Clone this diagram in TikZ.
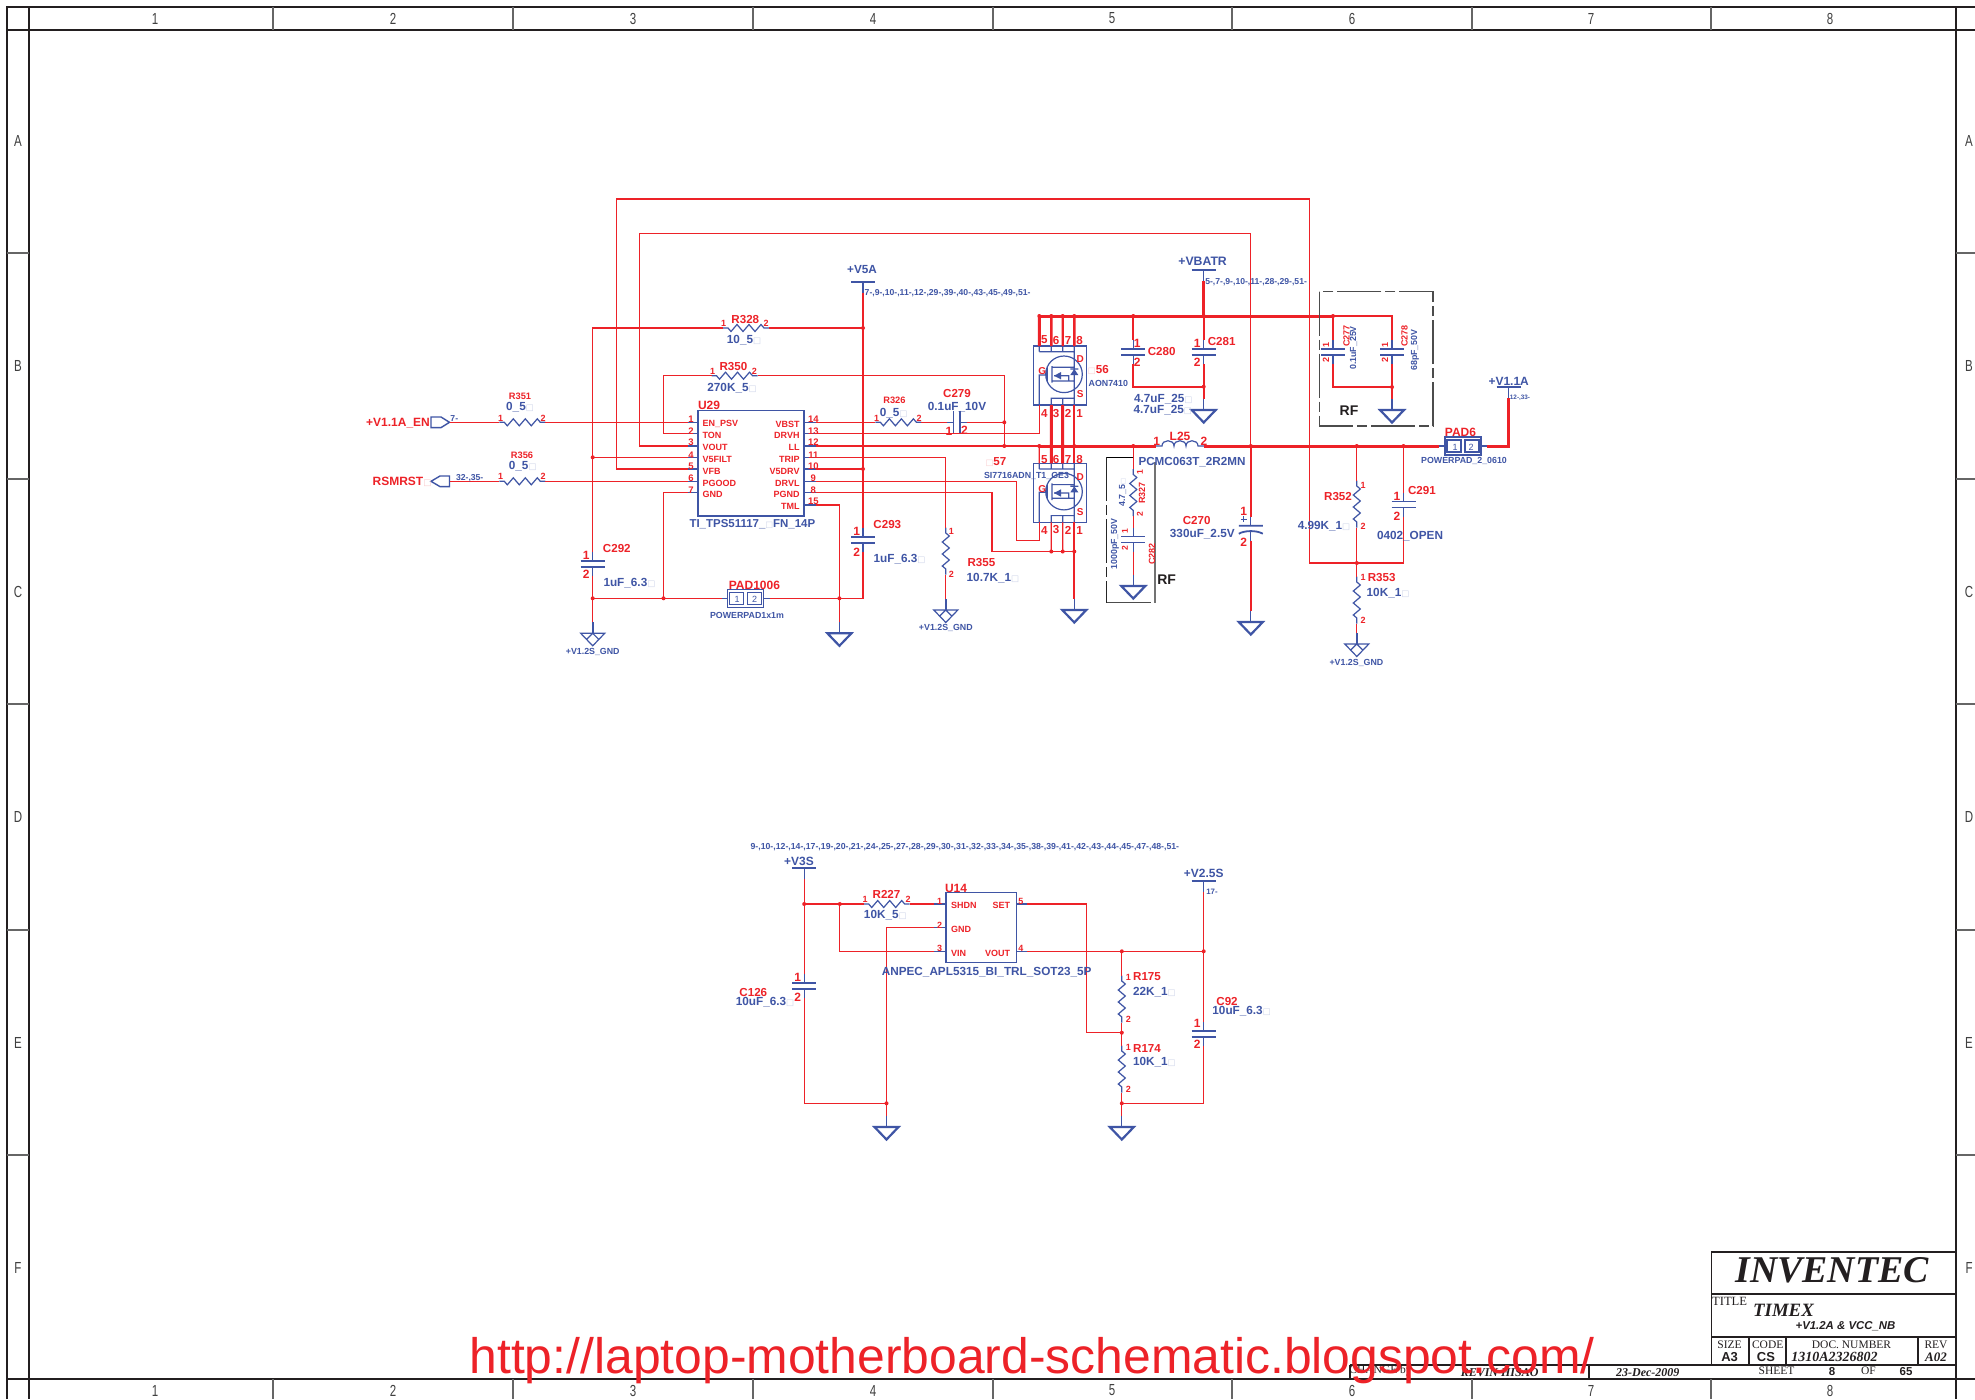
\documentclass[tikz,border=0pt]{standalone}
\usepackage{fontspec}
\setmainfont{Liberation Sans}
\newfontfamily\serf{Liberation Serif}
\newfontfamily\symf[Scale=.72]{DejaVu Sans}
\definecolor{wirered}{HTML}{ED2228}
\definecolor{partblue}{HTML}{3F55A5}
\definecolor{boxb}{HTML}{CBD2E8}
\definecolor{boxr}{HTML}{F9C9CB}
\definecolor{framek}{HTML}{231F20}
\newcounter{tn}
\newcommand\px[1]{\fontsize{\fpeval{(#1)/2}}{\fpeval{(#1)/2}}\selectfont}
\newcommand\bxb{{\color{boxb}\symf □}}
\newcommand\bxr{{\color{boxr}\symf □}}
\newcommand\RT[5][]{\stepcounter{tn}\node[txt,yshift=-.5pt,text=wirered,font=\bfseries\px{#2},#1] (t\arabic{tn}) at (#3,#4) {#5};}
\newcommand\BT[5][]{\stepcounter{tn}\node[txt,yshift=-.5pt,text=partblue,font=\bfseries\px{(#2)*.98},#1] (t\arabic{tn}) at (#3,#4) {#5};}
\newcommand\KT[5][]{\stepcounter{tn}\node[txt,text=framek,font=\px{#2},#1] (t\arabic{tn}) at (#3,#4) {#5};}
\tikzset{
 txt/.style={inner sep=0pt,outer sep=0pt},
 wire/.style={draw=wirered,line width=.65pt},
 bus/.style={draw=wirered,line width=1.5pt},
 part/.style={draw=partblue,line width=.6pt},
 plate/.style={draw=partblue,line width=.9pt},
 frameline/.style={draw=framek,line width=1pt},
 tblock/.style={draw=framek,line width=.9pt},
 rfbox/.style={draw=black!70,line width=.7pt,dash pattern=on 22pt off 2pt on 5pt off 2pt},
 chip/.style={draw=partblue,line width=.7pt,fill=none,inner sep=0pt},
 hres/.pic={\draw[part] (-23,0)--(-18,0)--(-15,3.5)--(-9,-3.5)--(-3,3.5)--(3,-3.5)--(9,3.5)--(15,-3.5)--(18,0)--(23,0);
   \coordinate (-a) at (-23,0);\coordinate (-b) at (23,0);},
 vres/.pic={\draw[part] (0,-23.5)--(0,-18)--(3.5,-15)--(-3.5,-9)--(3.5,-3)--(-3.5,3)--(3.5,9)--(-3.5,15)--(0,18)--(0,23.5);
   \coordinate (-a) at (0,-23.5);\coordinate (-b) at (0,23.5);},
 vcap/.pic={\draw[part] (0,-12)--(0,-3) (0,3)--(0,12);
   \draw[plate] (-12,-3)--(12,-3) (-12,3)--(12,3);
   \coordinate (-a) at (0,-12);\coordinate (-b) at (0,12);},
 hcap/.pic={\draw[part] (-10,0)--(-3.3,0) (3.3,0)--(10,0);
   \draw[plate] (-3.3,-11.7)--(-3.3,11.7) (3.3,-11.7)--(3.3,11.7);
   \coordinate (-a) at (-10,0);\coordinate (-b) at (10,0);},
 pcap/.pic={\draw[part] (0,-12)--(0,-3) (0,3)--(0,12) (-10,-9.5)--(-4,-9.5) (-7,-12.5)--(-7,-6.5);
   \draw[plate] (-12,-3)--(12,-3) (-12,5) .. controls (-6,1.5) and (6,1.5) .. (12,5);
   \coordinate (-a) at (0,-12);\coordinate (-b) at (0,12);},
 gndsym/.pic={\draw[part] (0,0)--(0,11);
   \draw[draw=partblue,line width=1.1pt] (-12,11)--(12,11)--(0,23.5)--cycle;
   \coordinate (-a) at (0,0);},
 gndaux/.pic={\draw[part] (0,0)--(0,11);
   \draw[draw=partblue,line width=1.1pt] (0,0)--(0,11);
   \draw[part] (-12,11)--(12,11)--(0,23.5)--cycle (-6,17)--(0,11)--(6,17);
   \coordinate (-a) at (0,0);},
 railbar/.pic={\draw[part] (0,0)--(0,11);
   \draw[draw=partblue,line width=1.1pt] (-12,0)--(12,0);
   \coordinate (-a) at (0,11);},
 padsym/.pic={\draw[part] (-24,0)--(-18,0) (18,0)--(24,0) (-18,-9) rectangle (18,9)
     (-16,-6) rectangle (-2,6) (2,-6) rectangle (16,6);
   \coordinate (-a) at (-24,0);\coordinate (-b) at (24,0);},
 coilsym/.pic={\draw[part] (-24,0)--(-18,0) .. controls (-18,-7) and (-6,-7) .. (-6,0)
     .. controls (-6,-7) and (6,-7) .. (6,0) .. controls (6,-7) and (18,-7) .. (18,0)--(24,0);
   \coordinate (-a) at (-24,0);\coordinate (-b) at (24,0);},
 mosfet/.pic={\draw[part] (-26.7,0) rectangle (26.7,59);
   \draw[part] (-20.7,0)--(-20.7,5.7) (-8.7,0)--(-8.7,5.7) (2.7,0)--(2.7,5.7) (-20.7,5.7)--(14.3,5.7)
     (14.3,0)--(14.3,59) (-8.7,59)--(-8.7,52.3)--(14.3,52.3) (2.7,52.3)--(2.7,59)
     (-20.7,59)--(-20.7,29)--(-12.7,29) (-12.7,20.7)--(-12.7,35.7)
     (-8,20)--(-8,36.7) (-8,21.3)--(14.3,21.3) (-8,35)--(8.7,35)--(8.7,29.7)--(-6,29.7) (8.7,35)--(14.3,35)
     (4,28.3) circle[radius=9.15pt] (10.3,23)--(18.3,23);
   \fill[partblue] (-6,29.7)--(1,26)--(1,33.4)--cycle (10.3,29)--(18.3,29)--(14.3,23)--cycle;
   \coordinate (-p5) at (-20.7,0);\coordinate (-p6) at (-8.7,0);\coordinate (-p7) at (2.7,0);\coordinate (-p8) at (14.3,0);
   \coordinate (-p4) at (-20.7,59);\coordinate (-p3) at (-8.7,59);\coordinate (-p2) at (2.7,59);\coordinate (-p1) at (14.3,59);},
}
\begin{document}
\begin{tikzpicture}[x=.5pt,y=-.5pt]
\useasboundingbox (0,0) rectangle (1975,1399);
\fill[white] (0,0) rectangle (1975,1399);
% ---------- frame
\coordinate (fTL) at (6.5,6.5);\coordinate (fTR) at (1975,6.5);\coordinate (fBL) at (6.5,1399);
\coordinate (iTL) at (29,29.7);\coordinate (iTR) at (1955.7,29.7);\coordinate (iBL) at (29,1379);\coordinate (iBR) at (1955.7,1379);
\draw[frameline] (fBL)--(fTL)--(fTR);
\draw[frameline,line width=1.1pt] (29,6.5)--(iTL)--(iBL)--(29,1399);
\draw[frameline,line width=1.1pt] (1955.7,6.5)--(iTR)--(iBR)--(1955.7,1399);
\draw[frameline,line width=1.1pt] (6.5,29.7)--(1975,29.7) (6.5,1379)--(1975,1379);
\foreach \x in {273.3,513,753,993,1232,1471.6,1711.3}{\draw[frameline,draw=black!60] (\x,6.5)--(\x,29.7) (\x,1379)--(\x,1399);}
\foreach \y in {253,479,704,930,1155}{\draw[frameline,draw=black!60] (6.5,\y)--(29,\y) (1955.7,\y)--(1975,\y);}
\foreach \n/\x in {1/155,2/393,3/633,4/873,5/1112,6/1352,7/1591,8/1830}{
 \KT[xscale=.72,text=black!75]{16}{\x}{18.5}{\n}\KT[xscale=.72,text=black!75]{16}{\x}{1390.5}{\n}}
\foreach \n/\y in {A/141,B/366,C/592,D/817,E/1043,F/1268}{
 \KT[xscale=.72,text=black!75]{16}{18}{\y}{\n}\KT[xscale=.72,text=black!75]{16}{1969}{\y}{\n}}
% ---------- U29
\node[chip,minimum width=53pt,minimum height=52.65pt] (U29) at (751,463.35) {};
\foreach \n/\y in {1/422.3,2/433.7,3/446,4/457.3,5/469,6/481.3,7/492.7}{
  \coordinate (U29L\n) at (688,\y); \draw[part] (U29L\n)--(698,\y);}
\foreach \n/\y in {14/422.3,13/433.7,12/446,11/457.3,10/469,9/481.3,8/492.7,15/505}{
  \coordinate (U29R\n) at (816,\y); \draw[part] (804,\y)--(U29R\n);}
\foreach \n/\y in {1/418.3,2/430,3/441,4/454,5/465,6/477,7/489}{\RT{9.5}{691}{\y}{\n}}
\foreach \n/\y in {14/418.3,13/430,12/441,11/454,10/465,9/477,8/489,15/500}{\RT{9.5}{813.3}{\y}{\n}}
\foreach \s/\y in {EN\_PSV/423,TON/434,VOUT/446,V5FILT/458,VFB/470,PGOOD/482,GND/493}{\RT[anchor=west]{9}{702.6}{\y}{\s}}
\foreach \s/\y in {VBST/423,DRVH/434,LL/446,TRIP/458,V5DRV/470,DRVL/482,PGND/493,TML/505}{\RT[anchor=east]{9}{799.5}{\y}{\s}}
\RT{12}{709}{404.7}{U29}
\BT{11.7}{752.4}{523.3}{TI\_TPS51117\_\bxb FN\_14P}
% ---------- power symbols and passives, upper sheet
\pic (V5A) at (863,281.7) {railbar};
\pic (VBATR) at (1203.7,270) {railbar};
\pic (V11A) at (1508.7,386.7) {railbar};
\pic (R328) at (746,328) {hres};
\pic (R350) at (734.5,375.7) {hres};
\pic (R351) at (522.3,422.3) {hres};
\pic (R356) at (522.3,481.3) {hres};
\pic (R326) at (898.4,422.3) {hres};
\pic (C279) at (956.7,422.3) {hcap};
\pic (C292) at (592.7,563.7) {vcap};
\pic (C293) at (863,539.7) {vcap};
\pic (PAD1006) at (745.7,598.3) {padsym};
\pic (PAD6) at (1463,446) {padsym};
\pic (R355) at (945.8,551) {vres};
\pic (G1) at (592.7,622.3) {gndaux};
\pic (G2) at (839.4,622.3) {gndsym};
\pic (G3) at (945.8,599) {gndaux};
\pic (Q1) at (1060,346) {mosfet};
\pic (Q2) at (1060,463.3) {mosfet};
\pic (G4) at (1074.3,599) {gndsym};
\pic (C280) at (1133.3,352) {vcap};
\pic (C281) at (1203.7,352) {vcap};
\pic (G5) at (1203.7,399) {gndsym};
\pic (C277) at (1333,352) {vcap};
\pic (C278) at (1392,352) {vcap};
\pic (G6) at (1392,399) {gndsym};
\pic (L25) at (1180,446) {coilsym};
\pic (R327) at (1133.3,492.5) {vres};
\pic (C282) at (1133.3,539.5) {vcap};
\pic (G7) at (1133.3,575) {gndsym};
\pic (C270) at (1250.8,528.7) {pcap};
\pic (G8) at (1250.8,611) {gndsym};
\pic (R352) at (1356.8,504) {vres};
\pic (C291) at (1403.5,504.5) {vcap};
\pic (R353) at (1356.8,600) {vres};
\pic (G9) at (1356.8,633) {gndaux};
% ports
\coordinate (portA) at (449.5,422.3);\coordinate (portB) at (449.5,481.3);
\draw[part,line width=.7pt] (431,417)--(441,417)--(portA)--(441,427.6)--(431,427.6)--cycle;
\draw[part,line width=.7pt] (431,481.3)--(440,476)--(449.5,476)--(449.5,486.6)--(440,486.6)--cycle;
% helper points
\coordinate (xVO) at (639.3,233.7);\coordinate (xVOr) at (1250.8,446);
\coordinate (xFB) at (616.4,199);\coordinate (xFBr) at (1309.5,563);
\coordinate (n328) at (863,328);\coordinate (n328l) at (592.7,328);
\coordinate (nV5D) at (863,469);\coordinate (nV5F) at (592.7,457.3);
\coordinate (nBL) at (592.7,598.3);\coordinate (nGND) at (663.5,598.3);\coordinate (nTML) at (839.4,598.3);\coordinate (nBR) at (863,598.3);
\coordinate (xTON) at (663.5,375.7);
\coordinate (nLLa) at (1004.3,422.3);\coordinate (nLLb) at (1004.3,446);\coordinate (xR350) at (1004.3,375.7);
\coordinate (x9) at (1016.2,540.3);\coordinate (x8) at (992,551.5);
\coordinate (nPG3) at (1051.3,551.5);\coordinate (nPG2) at (1062.7,551.5);\coordinate (nPG1) at (1074.3,551.5);
\coordinate (rT5) at (1039.3,316);\coordinate (rT6) at (1051.3,316);\coordinate (rT7) at (1062.7,316);\coordinate (rT8) at (1074.3,316);
\coordinate (rC280) at (1133.3,316);\coordinate (rV) at (1203.7,316);\coordinate (rC277) at (1333,316);\coordinate (rC278) at (1392,316);
\coordinate (r5) at (1039.3,446);\coordinate (r6) at (1051.3,446);\coordinate (r7) at (1062.7,446);\coordinate (r8) at (1074.3,446);
\coordinate (rR327) at (1133.3,446);\coordinate (rC270) at (1250.8,446);\coordinate (rR352) at (1356.8,446);\coordinate (rC291) at (1403.5,446);
\coordinate (rEnd) at (1508.7,446);
\coordinate (xC280) at (1203.7,386.7);\coordinate (lC280) at (1133.3,386.7);
\coordinate (xC278) at (1392,387);\coordinate (lC277) at (1333,387);
\coordinate (nFB) at (1356.8,563);\coordinate (nC291) at (1403.5,563);
% wires
\draw[wire] (U29L3) -| (xVO) -| (xVOr);
\draw[wire] (U29L5) -| (xFB) -| (xFBr) -- (nFB) -- (nC291);
\draw[wire] (R328-a) -- (n328l) -- (C292-a);
\draw[wire] (R328-b) -- (n328);
\draw[wire] (V5A-a) -- (C293-a);
\draw[wire] (C292-b) -- (G1-a);
\draw[wire] (nBL) -- (PAD1006-a);
\draw[wire] (PAD1006-b) -- (nBR) -- (C293-b);
\draw[wire] (U29L7) -| (nGND);
\draw[wire] (U29L2) -| (xTON) -- (R350-a);
\draw[wire] (R350-b) -- (xR350) -- (nLLb);
\draw[wire] (portA) -- (R351-a);
\draw[wire] (R351-b) -- (U29L1);
\draw[wire] (portB) -- (R356-a);
\draw[wire] (R356-b) -- (U29L6);
\draw[wire] (nV5F) -- (U29L4);
\draw[wire] (U29R14) -- (R326-a);
\draw[wire] (R326-b) -- (C279-a);
\draw[wire] (C279-b) -- (nLLa);
\draw[wire] (U29R13) -| (Q1-p4);
\draw[wire] (U29R12) -- (r5);
\draw[wire] (U29R11) -| (R355-a);
\draw[wire] (R355-b) -- (G3-a);
\draw[wire] (U29R10) -- (nV5D);
\draw[wire] (U29R9) -| (x9) -| (Q2-p4);
\draw[wire] (U29R8) -| (x8) -- (nPG1);
\draw[wire] (U29R15) -| (G2-a);
\draw[bus] (r5) -- (L25-a);
\draw[bus] (L25-b) -- (PAD6-a);
\draw[bus] (PAD6-b) -- (rEnd) -- (V11A-a);
\draw[bus] (VBATR-a) -- (rV);
\draw[bus] (rT5) -- (rC277);
\draw[wire] (rC277) -- (rC278) -- (C278-a);
\draw[bus] (rT5) -- (Q1-p5);
\draw[bus,line width=1.2pt] (rT6) -- (Q1-p6) (rT7) -- (Q1-p7) (rT8) -- (Q1-p8);
\draw[bus] (Q1-p3) -- (r6) (Q1-p2) -- (r7);
\draw[wire,line width=1pt] (Q1-p1) -- (r8);
\draw[wire] (r5) -- (Q2-p5);
\draw[bus] (r6) -- (Q2-p6) (r7) -- (Q2-p7);
\draw[wire,line width=1pt] (r8) -- (Q2-p8);
\draw[wire] (Q2-p3) -- (nPG3) (Q2-p2) -- (nPG2);
\draw[wire,line width=1pt] (Q2-p1) -- (G4-a);
\draw[wire,line width=1.1pt] (rC280) -- (C280-a);
\draw[wire,line width=1.1pt] (C280-b) -- (lC280) -- (xC280);
\draw[wire,line width=1.1pt] (rV) -- (C281-a);
\draw[wire,line width=1.1pt] (C281-b) -- (G5-a);
\draw[wire] (rC277) -- (C277-a);
\draw[wire] (C277-b) -- (lC277) -- (xC278);
\draw[wire] (C278-b) -- (G6-a);
\draw[wire] (rR327) -- (R327-a);
\draw[wire] (R327-b) -- (C282-a);
\draw[wire] (C282-b) -- (G7-a);
\draw[bus,line width=1.2pt] (rC270) -- (C270-a);
\draw[bus,line width=1.2pt] (C270-b) -- (G8-a);
\draw[wire] (rR352) -- (R352-a);
\draw[wire] (R352-b) -- (nFB) -- (R353-a);
\draw[wire] (R353-b) -- (G9-a);
\draw[wire] (rC291) -- (C291-a);
\draw[wire] (C291-b) -- (nC291);
% RF boxes
\draw[rfbox] (1319.3,291.7) rectangle (1433,426);
\draw[draw=black,line width=.6pt] (1133,457.3) -- (1106.7,457.3);
\draw[rfbox,draw=black!85] (1106.7,457.3) -- (1106.7,602.7);
\draw[rfbox] (1106.7,602.7) -- (1155,602.7);
\draw[draw=black!55,line width=1pt] (1155,462) -- (1155,602.7);
% upper labels
\BT{12}{862}{269}{+V5A}
\BT[anchor=west]{8.8}{864.7}{292.3}{7-,9-,10-,11-,12-,29-,39-,40-,43-,45-,49-,51-}
\RT{9}{723.5}{322.7}{1}\RT{11.6}{745.3}{319}{R328}\RT{9}{766}{322.7}{2}\BT{12}{744}{339}{10\_5\bxb}
\RT{9}{712.5}{370}{1}\RT{11.6}{733.4}{366}{R350}\RT{9}{754.4}{370}{2}\BT{12}{732}{387}{270K\_5\bxb}
\RT{9.3}{520}{395.7}{R351}\BT{12}{520}{406}{0\_5\bxb}\RT{9}{500.5}{417}{1}\RT{9}{543}{417}{2}
\RT{12}{398}{422}{+V1.1A\_EN}\BT{8.8}{454.3}{418}{7-}
\RT{9.3}{522}{454.7}{R356}\BT{12}{522.7}{465}{0\_5\bxb}\RT{9}{500.5}{475.3}{1}\RT{9}{543}{475.3}{2}
\BT{8.8}{469.7}{477}{32-,35-}
\RT{12}{402}{480.7}{RSMRST\bxr}
\RT{11.6}{887.3}{524}{C293}\RT{12}{856.8}{530}{1}\RT{12}{856.8}{551}{2}\BT{12}{899.5}{558}{1uF\_6.3\bxb}
\RT{11.6}{616.8}{547.7}{C292}\RT{12}{586.3}{554}{1}\RT{12}{586.3}{573.7}{2}\BT{12}{629.4}{582}{1uF\_6.3\bxb}
\RT{12}{754.4}{584}{PAD1006}\BT{9}{747}{614}{POWERPAD1x1m}
\BT[font=\px{9}]{9}{737}{598.3}{1}\BT[font=\px{9}]{9}{754.7}{598.3}{2}
\BT{9}{592.7}{650.7}{+V1.2S\_GND}
\BT{9}{945.8}{626.7}{+V1.2S\_GND}
\RT{9}{951.3}{530.3}{1}\RT{9}{951.3}{573}{2}
\RT{9.3}{894.4}{399.7}{R326}\BT{12}{893.6}{412}{0\_5\bxb}\RT{9}{876.6}{417.7}{1}\RT{9}{919}{417.7}{2}
\RT{11.6}{957}{392}{C279}\BT{12}{957}{405.6}{0.1uF\_10V}\RT{12}{949}{430}{1}\RT{12}{964.5}{429.3}{2}
\RT{11.6}{981.4}{561.7}{R355}\BT{12}{992.9}{576.7}{10.7K\_1\bxb}
\BT{12.5}{1202.6}{260}{+VBATR}\BT[anchor=west]{8.8}{1205.3}{281}{5-,7-,9-,10-,11-,28-,29-,51-}
\RT{12}{1137.3}{342.3}{1}\RT{12}{1137.3}{361.7}{2}\RT{11.6}{1161.7}{350}{C280}
\RT{11.6}{1221.7}{340}{C281}\RT{12}{1197.3}{342.3}{1}\RT{12}{1197.3}{361.7}{2}
\BT{12}{1163.3}{397.7}{4.7uF\_25\bxb}\BT{12}{1162.7}{409.3}{4.7uF\_25\bxb}
\RT{11.6}{1098.3}{369}{\bxr 56}\BT{9}{1108.3}{382.7}{AON7410}
\RT{11.6}{995.9}{461}{\bxr 57}\BT{9}{1026.5}{475}{SI7716ADN\_T1\_GE3}
\foreach \n/\x in {5/1044.3,6/1056,7/1068,8/1079.7}{\RT{11.6}{\x}{339}{\n}\RT{11.6}{\x}{458.3}{\n}}
\foreach \n/\x in {4/1044.3,3/1056,2/1068,1/1079.7}{\RT{11.6}{\x}{412.7}{\n}\RT{11.6}{\x}{529}{\n}}
\RT{10}{1080.3}{357.7}{D}\RT{10}{1042.3}{370}{G}\RT{10}{1080.3}{393}{S}
\RT{10}{1080.3}{475.7}{D}\RT{10}{1042.3}{488.3}{G}\RT{10}{1080.3}{510.7}{S}
\RT{12}{1156.7}{440.7}{1}\RT{12}{1180}{435}{L25}\RT{12}{1204}{440}{2}
\BT{11.9}{1192}{461}{PCMC063T\_2R2MN}
\RT{11.6}{1196.7}{519}{C270}\BT{12}{1202.3}{532.7}{330uF\_2.5V}\RT{12}{1243.7}{510}{1}\RT{12}{1243.7}{541.7}{2}
\RT{11.6}{1338}{496}{R352}\BT{12}{1324}{525}{4.99K\_1\bxb}\RT{9}{1363}{484}{1}\RT{9}{1363}{525}{2}
\RT{11.6}{1421.9}{489}{C291}\RT{12}{1397}{495}{1}\RT{12}{1397}{515.7}{2}\BT{12}{1410}{535}{0402\_OPEN}
\RT{11.6}{1381.7}{576.7}{R353}\RT{9}{1363}{576.7}{1}\BT{12}{1388}{592}{10K\_1\bxb}\RT{9}{1363}{619}{2}
\BT{9}{1356.4}{661.7}{+V1.2S\_GND}
\RT{12}{1460.5}{431.7}{PAD6}\BT{9}{1464}{460}{POWERPAD\_2\_0610}
\BT[font=\px{9}]{9}{1455}{446}{1}\BT[font=\px{9}]{9}{1471}{446}{2}
\BT{12.2}{1508.7}{380}{+V1.1A}\BT{6.5}{1520}{397}{12-,33-}
\RT[rotate=90]{9}{1326}{344}{1}\RT[rotate=90]{9}{1326}{359.3}{2}\RT[rotate=90]{9}{1385}{344}{1}\RT[rotate=90]{9}{1385}{359.3}{2}
\RT[rotate=90]{9}{1346.5}{335}{C277}\BT[rotate=90]{9}{1353.5}{347}{0.1uF\_25V}
\RT[rotate=90]{9}{1404.6}{335}{C278}\BT[rotate=90]{9}{1415}{349}{68pF\_50V}
\KT[font=\bfseries\px{14}]{14}{1349}{410.7}{RF}
\KT[font=\bfseries\px{14}]{14}{1166.7}{579.3}{RF}
\BT[rotate=90]{9}{1122.7}{491.7}{4.7\_5\bxb}\RT[rotate=90]{9}{1142}{492}{R327}
\RT[rotate=90]{8.5}{1140}{471}{1}\RT[rotate=90]{8.5}{1140}{512.7}{2}
\BT[rotate=90]{9}{1115}{543}{1000pF\_50V}\RT[rotate=90]{9}{1152}{553}{C282}
\RT[rotate=90]{8.5}{1125}{530}{1}\RT[rotate=90]{8.5}{1125}{547}{2}
% ---------- U14 section
\node[chip,minimum width=35.4pt,minimum height=35.2pt] (U14) at (981.2,927.5) {};
\foreach \n/\y in {1/904,2/927.7,3/951.3}{\coordinate (U14L\n) at (934.3,\y); \draw[part] (U14L\n)--(945.8,\y);}
\foreach \n/\y in {5/904,4/951.3}{\coordinate (U14R\n) at (1027,\y); \draw[part] (1016.6,\y)--(U14R\n);}
\pic (V3S) at (804.2,868.3) {railbar};
\pic (V25S) at (1203.7,881) {railbar};
\pic (C126) at (804.2,986) {vcap};
\pic (C92) at (1203.7,1033.7) {vcap};
\pic (R227) at (886.7,904) {hres};
\pic (R175) at (1121.8,999) {vres};
\pic (R174) at (1121.8,1069) {vres};
\pic (G10) at (886.5,1116) {gndsym};
\pic (G11) at (1121.8,1116) {gndsym};
\coordinate (n3a) at (804.2,904);\coordinate (n3b) at (839.8,904);
\coordinate (n3c) at (886.5,1103.3);\coordinate (x3c) at (804.2,1103.3);
\coordinate (x5a) at (1086.6,1032.7);\coordinate (n5b) at (1121.8,1032.7);
\coordinate (n4a) at (1121.8,951.3);\coordinate (n4b) at (1203.7,951.3);
\coordinate (n6) at (1121.8,1103.3);\coordinate (x6) at (1203.7,1103.3);
\draw[wire] (V3S-a) -- (C126-a);
\draw[wire] (C126-b) -- (x3c) -- (n3c) -- (G10-a);
\draw[wire] (n3a) -- (R227-a);
\draw[wire] (R227-b) -- (U14L1);
\draw[wire] (n3b) |- (U14L3);
\draw[wire] (U14L2) -| (n3c);
\draw[wire] (U14R5) -| (x5a) -- (n5b);
\draw[wire] (U14R4) -- (n4b);
\draw[wire] (n4a) -- (R175-a);
\draw[wire] (R175-b) -- (R174-a);
\draw[wire] (R174-b) -- (G11-a);
\draw[wire] (n6) -- (x6) -- (C92-b);
\draw[wire] (V25S-a) -- (C92-a);
\BT[anchor=west]{8.9}{750.6}{846}{9-,10-,12-,14-,17-,19-,20-,21-,24-,25-,27-,28-,29-,30-,31-,32-,33-,34-,35-,38-,39-,41-,42-,43-,44-,45-,47-,48-,51-}
\BT{12.2}{799}{860}{+V3S}\BT{12.2}{1203.7}{872.7}{+V2.5S}\BT{8}{1212}{891}{17-}
\RT{12}{956}{887}{U14}
\RT{11.6}{886.5}{893.7}{R227}\RT{9}{865}{898}{1}\RT{9}{908}{898}{2}\BT{12}{885.3}{914}{10K\_5\bxb}
\RT{9}{939.7}{900}{1}\RT{9}{939.7}{924}{2}\RT{9}{939.7}{947}{3}\RT{9}{1020.8}{900}{5}\RT{9}{1020.8}{947}{4}
\RT[anchor=west]{9}{951}{904}{SHDN}\RT[anchor=west]{9}{951}{928}{GND}\RT[anchor=west]{9}{951}{952}{VIN}
\RT[anchor=east]{9}{1010}{904}{SET}\RT[anchor=east]{9}{1010}{952}{VOUT}
\BT{12}{986.7}{971}{ANPEC\_APL5315\_BI\_TRL\_SOT23\_5P}
\RT{12}{797.7}{976}{1}\RT{12}{797.7}{996}{2}\RT{11.6}{753.3}{991}{C126}\BT{12}{765}{1001}{10uF\_6.3\bxb}
\RT{11.6}{1147}{976}{R175}\RT{9}{1128.3}{976}{1}\BT{12}{1154.4}{991}{22K\_1\bxb}\RT{9}{1128.3}{1018}{2}
\RT{11.6}{1147}{1047}{R174}\RT{9}{1128.3}{1046}{1}\BT{12}{1154.4}{1060.7}{10K\_1\bxb}\RT{9}{1128.3}{1088.7}{2}
\RT{11.6}{1227}{1000}{C92}\BT{12}{1241.6}{1010}{10uF\_6.3\bxb}\RT{12}{1197.2}{1022.7}{1}\RT{12}{1197.2}{1043}{2}
% junctions
\foreach \j in {n328,nV5D,nV5F,nBL,nGND,nTML,nLLa,nLLb,r5,r6,r7,r8,rT6,rT7,rT8,rT5,rC280,rV,rC277,rR327,rC270,rR352,rC291,xC280,xC278,nFB,nPG3,nPG2,nPG1,n3a,n3b,n3c,n5b,n4a,n4b,n6}{\fill[wirered] (\j) circle[radius=1pt];}
% ---------- title block
\coordinate (tb1) at (1711.4,1251.7);\coordinate (tb2) at (1956,1365);
\draw[tblock] (tb1) rectangle (tb2);
\draw[tblock] (1711.4,1294)--(1956,1294) (1711.4,1336.7)--(1956,1336.7);
\draw[tblock] (1749,1336.7)--(1749,1365) (1786,1336.7)--(1786,1365) (1918,1336.7)--(1918,1365);
\draw[tblock] (1350,1365)--(1711.4,1365) (1350,1365)--(1350,1379) (1588.7,1365)--(1588.7,1379);
\KT[font=\serf\bfseries\itshape\px{37.8}]{38}{1832}{1270.7}{INVENTEC}
\KT[font=\serf\px{12.6}]{12}{1729.6}{1301}{TITLE}
\KT[font=\serf\bfseries\itshape\px{18.8}]{18}{1783.5}{1310.7}{TIMEX}
\KT[font=\bfseries\itshape\px{11.4}]{11}{1845.5}{1326}{+V1.2A \& VCC\_NB}
\KT[font=\serf\px{11.5}]{11}{1729.6}{1344.3}{SIZE}\KT[font=\serf\px{11.5}]{11}{1767.7}{1344.3}{CODE}
\KT[font=\serf\px{11.5}]{11}{1851.5}{1344.3}{DOC. NUMBER}\KT[font=\serf\px{11.5}]{11}{1936}{1344.3}{REV}
\KT[font=\bfseries\px{13}]{13}{1729.6}{1357.3}{A3}\KT[font=\bfseries\px{13}]{13}{1766}{1357.3}{CS}
\KT[font=\serf\bfseries\itshape\px{14}]{14}{1834.5}{1357.3}{1310A2326802}
\KT[font=\serf\bfseries\itshape\px{13}]{13}{1936}{1357.3}{A02}
\KT[font=\serf\px{11.5}]{11}{1776.6}{1370.3}{SHEET}\KT[font=\bfseries\px{11.5}]{11}{1832}{1371.7}{8}
\KT[font=\serf\px{11.5}]{11}{1868.5}{1370.3}{OF}\KT[font=\bfseries\px{11.5}]{11}{1906}{1371.7}{65}
\KT[font=\serf\px{11.5}]{11}{1380.5}{1371}{CHANGE by}
\KT[font=\serf\bfseries\itshape\px{12}]{12}{1499.6}{1372.3}{REVIN HISAO}
\KT[font=\serf\bfseries\itshape\px{12}]{12}{1647.8}{1372.3}{23-Dec-2009}
% ---------- watermark
\node[txt,anchor=base,text=wirered,font=\px{49.85}] (wmark) at (1032,1373) {http://laptop-motherboard-schematic.blogspot.com/};
\end{tikzpicture}
\end{document}
